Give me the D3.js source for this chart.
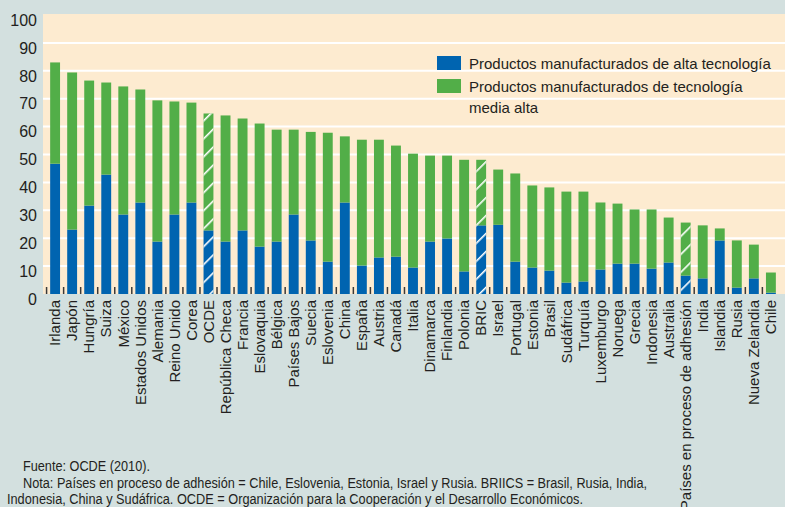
<!DOCTYPE html>
<html>
<head>
<meta charset="utf-8">
<script src="https://cdn.jsdelivr.net/npm/d3@7"></script>
<style>
  body { margin: 0; background: #d3e0df; }
  svg { display: block; }
</style>
</head>
<body>
<svg id="chart"></svg>
<script>
const categories = ["Irlanda", "Japón", "Hungría", "Suiza", "México", "Estados Unidos", "Alemania",
  "Reino Unido", "Corea", "OCDE", "República Checa", "Francia", "Eslovaquia", "Bélgica",
  "Países Bajos", "Suecia", "Eslovenia", "China", "España", "Austria", "Canadá", "Italia",
  "Dinamarca", "Finlandia", "Polonia", "BRIC", "Israel", "Portugal", "Estonia", "Brasil",
  "Sudáfrica", "Turquía", "Luxemburgo", "Noruega", "Grecia", "Indonesia", "Australia",
  "Países en proceso de adhesión", "India", "Islandia", "Rusia", "Nueva Zelandia", "Chile"];

// alta tecnología (azul)
const altaTec = [46.7, 23.1, 31.7, 42.8, 28.5, 32.8, 18.8, 28.5, 32.8, 22.8, 18.8, 22.8, 17.0, 18.8,
  28.5, 19.2, 11.6, 32.8, 10.2, 13.1, 13.4, 9.5, 18.8, 19.9, 8.1, 24.6, 24.8, 11.6, 9.5, 8.4,
  4.1, 4.5, 8.8, 10.9, 10.9, 9.1, 11.3, 6.6, 5.6, 19.2, 2.3, 5.6, 0.5];

// tecnología media alta (verde)
const mediaAltaTec = [36.3, 56.3, 44.8, 33.0, 45.9, 40.5, 50.6, 40.5, 35.8, 41.9, 45.2, 40.1, 44.1, 40.1,
  30.4, 38.9, 46.2, 23.7, 45.1, 42.2, 39.8, 40.8, 30.8, 29.7, 40.0, 23.5, 19.8, 31.6, 29.4, 29.8,
  32.6, 32.2, 24.0, 21.5, 19.4, 21.2, 16.1, 19.0, 19.0, 4.3, 16.9, 12.1, 7.2];

const aggregates = ["OCDE", "BRIC", "Países en proceso de adhesión"];
const yTicks = [0, 10, 20, 30, 40, 50, 60, 70, 80, 90, 100];
const legendLabels = [["Productos manufacturados de alta tecnología"],
  ["Productos manufacturados de tecnología", "media alta"]];
const footnotes = ["Fuente: OCDE (2010).",
  "Nota: Países en proceso de adhesión = Chile, Eslovenia, Estonia, Israel y Rusia. BRIICS = Brasil, Rusia, India,",
  "Indonesia, China y Sudáfrica. OCDE = Organización para la Cooperación y el Desarrollo Económicos."];

const width = 785, height = 507;
const blue = "#0064b0", green = "#52ae48", cream = "#fdebd0", bg = "#d3e0df", ink = "#231f20";
const plotLeft = 43, plotRight = 785, plotTop = 14;

const svg = d3.select("#chart").attr("width", width).attr("height", height)
  .style("font-family", "'Liberation Sans', Arial, sans-serif");

svg.append("rect").attr("width", width).attr("height", height).attr("fill", bg);

const x = d3.scaleBand().domain(categories).range([43, 783]).padding(0.42);
const y = d3.scaleLinear().domain([0, 100]).range([294, 15]);

svg.append("rect")
  .attr("x", plotLeft).attr("y", plotTop)
  .attr("width", plotRight - plotLeft).attr("height", y(0) - plotTop)
  .attr("fill", cream);

// hatch pattern
const defs = svg.append("defs");
defs.append("pattern")
  .attr("id", "hatch")
  .attr("patternUnits", "userSpaceOnUse")
  .attr("width", 12.7).attr("height", 12.7)
  .attr("patternTransform", "rotate(45)")
  .append("line")
  .attr("x1", 0).attr("y1", 0).attr("x2", 0).attr("y2", 12.7)
  .attr("stroke", "#fff").attr("stroke-width", 3.2);

// gridlines
svg.append("g")
  .selectAll("line")
  .data(yTicks.filter(d => d > 0 && d < 100))
  .enter()
  .append("line")
  .attr("x1", plotLeft).attr("x2", plotRight)
  .attr("y1", d => y(d)).attr("y2", d => y(d))
  .attr("stroke", "#fff").attr("stroke-width", 2);

// y labels
svg.append("g")
  .selectAll("text")
  .data(yTicks)
  .enter()
  .append("text")
  .attr("x", 37).attr("y", d => y(d))
  .attr("dy", "0.67em")
  .attr("text-anchor", "end")
  .attr("font-size", 16)
  .attr("fill", ink)
  .text(d => d);

const rows = categories.map((c, i) => ({ c, a: altaTec[i], m: mediaAltaTec[i] }));

const bars = svg.append("g");
bars.selectAll(".alta")
  .data(rows)
  .enter()
  .append("rect")
  .attr("x", d => x(d.c))
  .attr("width", x.bandwidth())
  .attr("y", d => y(d.a))
  .attr("height", d => y(0) - y(d.a))
  .attr("fill", blue);

bars.selectAll(".media")
  .data(rows)
  .enter()
  .append("rect")
  .attr("x", d => x(d.c))
  .attr("width", x.bandwidth())
  .attr("y", d => y(d.a + d.m))
  .attr("height", d => y(d.a) - y(d.a + d.m))
  .attr("fill", green);

bars.selectAll(".hatch")
  .data(rows.filter(d => aggregates.includes(d.c)))
  .enter()
  .append("rect")
  .attr("x", d => x(d.c))
  .attr("width", x.bandwidth())
  .attr("y", d => y(d.a + d.m))
  .attr("height", d => y(0) - y(d.a + d.m))
  .attr("fill", "url(#hatch)");

// small tick marks between bars
const gap = x.step() * x.paddingInner();
svg.append("g")
  .selectAll("line")
  .data(categories)
  .enter()
  .append("line")
  .attr("x1", d => x(d) - gap / 2).attr("x2", d => x(d) - gap / 2)
  .attr("y1", y(0) - 7).attr("y2", y(0))
  .attr("stroke", "#3a3a3a").attr("stroke-width", 1.5);

// x labels
svg.append("g")
  .selectAll("text")
  .data(categories)
  .enter()
  .append("text")
  .attr("transform", d => "translate(" + (x(d) + x.bandwidth() / 2) + "," + 300 + ") rotate(-90)")
  .attr("dy", "0.35em")
  .attr("text-anchor", "end")
  .attr("font-size", 15)
  .attr("fill", ink)
  .text(d => d);

// legend
const legend = svg.append("g");
[blue, green].forEach((col, i) => {
  legend.append("rect")
    .attr("x", 437).attr("y", 56 + i * 23)
    .attr("width", 24).attr("height", 14)
    .attr("fill", col);
});
[[69, legendLabels[0][0]], [91.7, legendLabels[1][0]], [113.3, legendLabels[1][1]]].forEach(([ly, t]) => {
  legend.append("text")
    .attr("x", 469).attr("y", ly)
    .attr("font-size", 15)
    .attr("fill", ink)
    .text(t);
});

// footnotes (condensed face in the original, squeezed to its width)
const foot = svg.append("g")
  .attr("font-size", 15.5)
  .attr("fill", ink);
[[23, 470.5, 127], [23, 487.5, 624], [7, 504, 576]].forEach(([fx, fy, len], i) => {
  foot.append("text").attr("x", fx).attr("y", fy)
    .attr("textLength", len).attr("lengthAdjust", "spacingAndGlyphs")
    .text(footnotes[i]);
});
</script>
</body>
</html>
